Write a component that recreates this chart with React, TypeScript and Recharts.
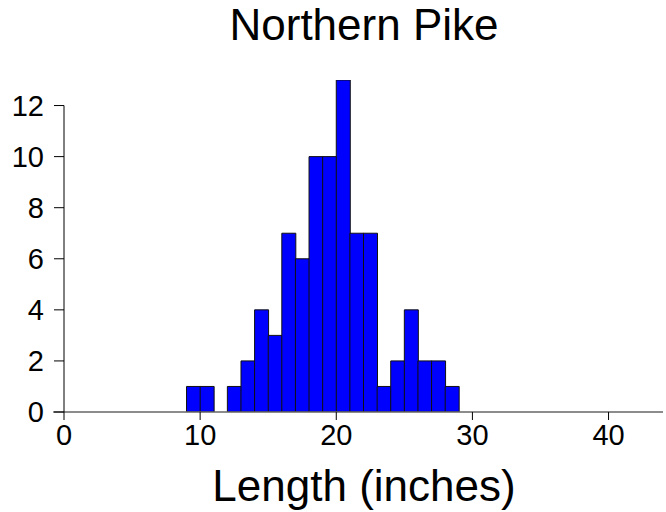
import { ComposedChart, Bar, XAxis, YAxis, ReferenceLine } from 'recharts';

const binStarts = [9, 10, 11, 12, 13, 14, 15, 16, 17, 18, 19, 20, 21, 22, 23, 24, 25, 26, 27, 28];
const counts = [1, 1, 0, 1, 2, 4, 3, 7, 6, 10, 10, 13, 7, 7, 1, 2, 4, 2, 2, 1];
const xTicks = [0, 10, 20, 30, 40];
const yTicks = [0, 2, 4, 6, 8, 10, 12];

const FONT = '"Liberation Sans", Arial, sans-serif';

const data = binStarts.map((start, i) => ({ mid: start + 0.5, count: counts[i] }));

export default function App() {
  return (
    <div style={{ position: 'absolute', left: 0, top: 0, width: 666, height: 512, background: '#fff' }}>
      <ComposedChart
        width={666}
        height={512}
        data={data}
        margin={{ top: 80, right: 3, left: 0, bottom: 0 }}
        barCategoryGap={0}
        barGap={0}
        style={{ fontFamily: FONT }}
      >
        <XAxis
          dataKey="mid"
          type="number"
          domain={[0, 44]}
          ticks={xTicks}
          interval={0}
          height={100}
          axisLine={false}
          tickLine={{ stroke: '#000' }}
          tickSize={8}
          tickMargin={4}
          tick={{ fontSize: 29, fill: '#000', fontFamily: FONT }}
          allowDataOverflow
        />
        <YAxis
          type="number"
          domain={[0, 13]}
          ticks={yTicks}
          interval={0}
          width={64}
          axisLine={false}
          tickLine={{ stroke: '#000' }}
          tickSize={10}
          tickMargin={10}
          tick={{ fontSize: 29, fill: '#000', fontFamily: FONT }}
          allowDataOverflow
        />
        <ReferenceLine
          segment={[{ x: -0.8, y: 0 }, { x: 44, y: 0 }]}
          stroke="#666"
          strokeWidth={1.5}
          ifOverflow="visible"
        />
        <ReferenceLine
          segment={[{ x: 0, y: 0 }, { x: 0, y: 12 }]}
          stroke="#000"
          strokeWidth={1}
          ifOverflow="visible"
        />
        <Bar dataKey="count" fill="#0000ff" stroke="#111" strokeWidth={1} isAnimationActive={false} />
      </ComposedChart>
      <svg width={666} height={512} style={{ position: 'absolute', left: 0, top: 0, pointerEvents: 'none' }}>
        <text x={364} y={40} textAnchor="middle" fontSize={44} fontFamily={FONT} fill="#000">
          Northern Pike
        </text>
        <text x={364} y={501} textAnchor="middle" fontSize={44} fontFamily={FONT} fill="#000">
          Length (inches)
        </text>
      </svg>
    </div>
  );
}
